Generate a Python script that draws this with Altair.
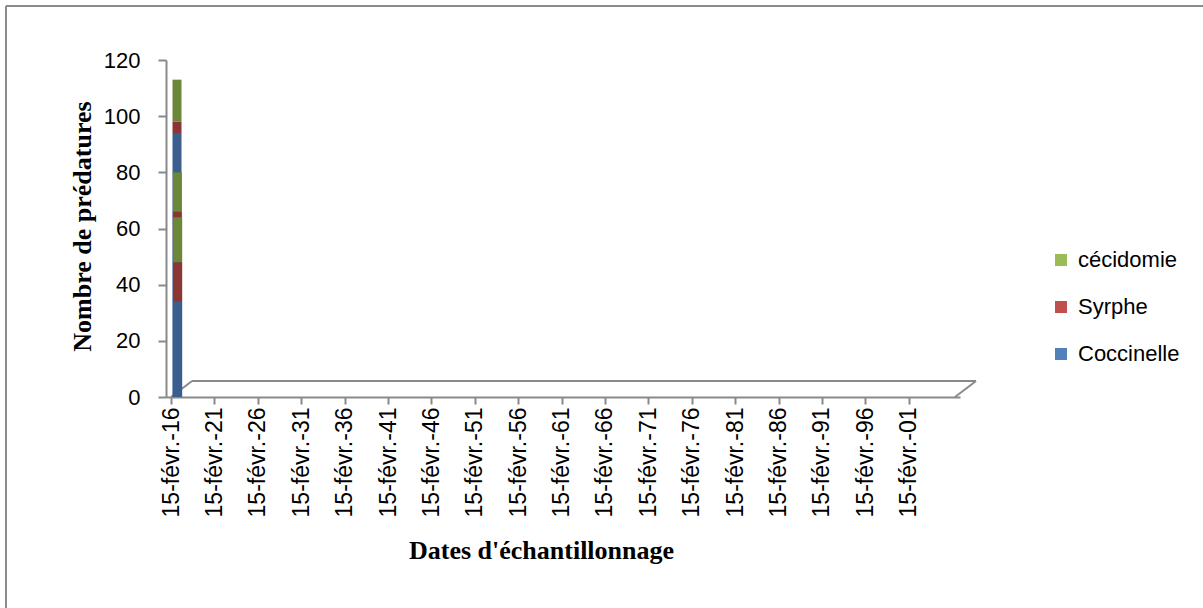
import altair as alt
import pandas as pd

# Predator counts per sampling date (stacked: Coccinelle, Syrphe, cécidomie)
sample_dates = ["2016-02-15", "2016-03-01", "2016-03-15"]
coccinelle = [94, 55, 34]
syrphe = [4, 11, 14]
cecidomie = [15, 14, 16]

series_names = ["Coccinelle", "Syrphe", "cécidomie"]
legend_order = ["cécidomie", "Syrphe", "Coccinelle"]
face_colors = ["#3A5E8E", "#8B3633", "#6C863A"]      # shaded column faces
legend_colors = ["#9BBB59", "#C0504D", "#4F81BD"]    # cécidomie, Syrphe, Coccinelle

y_ticks = [0, 20, 40, 60, 80, 100, 120]
tick_years = list(range(2016, 2102, 5))
axis_start = alt.DateTime(year=2016, month=2, date=15)
axis_end = alt.DateTime(year=2106, month=6, date=15)

rows = []
for i, d in enumerate(sample_dates):
    for rank, (name, vals) in enumerate(zip(series_names, [coccinelle, syrphe, cecidomie])):
        rows.append({"sample": i, "date": d, "series": name, "value": vals[i], "rank": rank})
df = pd.DataFrame(rows)

floor_df = pd.DataFrame({"start": ["2016-02-15"], "end": ["2106-06-15"], "base": [0]})
frame_df = pd.DataFrame({"edge": ["frame"]})

x_scale = alt.Scale(domain=[axis_start, axis_end])
y_scale = alt.Scale(domain=[0, 120], nice=False)

x_axis = alt.Axis(
    values=[alt.DateTime(year=y, month=2, date=15) for y in tick_years],
    labelExpr="'15-févr.-' + timeFormat(datum.value, '%y')",
    labelAngle=-90, labelPadding=3, tickSize=7, labelFontSize=23,
    title="Dates d'échantillonnage", titleX=375, titleY=161,
    titleBaseline="alphabetic", titleAlign="center",
)
y_axis = alt.Axis(
    values=y_ticks, tickSize=8, labelPadding=18,
    title="Nombre de prédatures", titleX=-84, titleY=166,
    titleBaseline="middle", titleAlign="center", titleAngle=270,
)

# 3D floor outline (back edge and the two depth edges)
floor_back = alt.Chart(floor_df).mark_rule(
    color="#898989", strokeWidth=2, xOffset=21, x2Offset=21, yOffset=-16, y2Offset=-16
).encode(
    x=alt.X("start:T", scale=x_scale, axis=x_axis),
    x2="end:T",
    y=alt.Y("base:Q", scale=y_scale, axis=y_axis),
)
floor_left = alt.Chart(floor_df).mark_rule(
    color="#898989", strokeWidth=2, x2Offset=21, y2Offset=-16
).encode(x="start:T", x2="start:T", y="base:Q", y2="base:Q")
floor_right = alt.Chart(floor_df).mark_rule(
    color="#898989", strokeWidth=2, x2Offset=21, y2Offset=-16
).encode(x="end:T", x2="end:T", y="base:Q", y2="base:Q")

face_scale = alt.Scale(domain=series_names, range=face_colors)

# Stacked columns, one layer per date so the latest one sits in front
bar_layers = []
for i in range(len(sample_dates)):
    bar_layers.append(
        alt.Chart(df).transform_filter(alt.datum.sample == i).mark_bar(size=9, xOffset=6).encode(
            x=alt.X("date:T"),
            y=alt.Y("value:Q", stack="zero"),
            fill=alt.Fill("series:N", scale=face_scale, legend=None),
            order=alt.Order("rank:Q", sort="ascending"),
        )
    )

legend_layer = alt.Chart(df).mark_square(opacity=0).encode(
    x="date:T",
    y="value:Q",
    color=alt.Color(
        "series:N",
        scale=alt.Scale(domain=legend_order, range=legend_colors),
        legend=alt.Legend(
            title=None, orient="none", legendX=884, legendY=189, padding=0,
            symbolType="square", symbolSize=144, symbolOpacity=1, symbolStrokeWidth=0,
            labelFont="Liberation Sans", labelFontSize=22, labelColor="black",
            labelOffset=6, rowPadding=25,
        ),
    ),
)

# Chart-area frame
frame_top = alt.Chart(frame_df).mark_rule(color="#8C8C8C", strokeWidth=2).encode(
    x=alt.value(-160), x2=alt.value(1037), y=alt.value(-54)
)
frame_left = alt.Chart(frame_df).mark_rule(color="#8C8C8C", strokeWidth=2).encode(
    x=alt.value(-160), y=alt.value(-54), y2=alt.value(548)
)

chart = alt.layer(
    floor_back, floor_left, floor_right, *bar_layers, legend_layer, frame_top, frame_left
).resolve_scale(color="independent", fill="independent").properties(
    width=794, height=337,
    autosize=alt.AutoSizeParams(type="none"),
    padding={"left": 166, "top": 60, "right": 243, "bottom": 211},
    background="white",
).configure_view(stroke=None).configure_axis(
    grid=False,
    labelFont="Liberation Sans", labelFontSize=22, labelColor="black",
    domainColor="#898989", domainWidth=2, tickColor="#898989", tickWidth=2,
    titleFont="Liberation Serif", titleFontSize=26, titleFontWeight="bold", titleColor="black",
)

chart.save("out.html", embed_options={"renderer": "svg", "actions": False})
